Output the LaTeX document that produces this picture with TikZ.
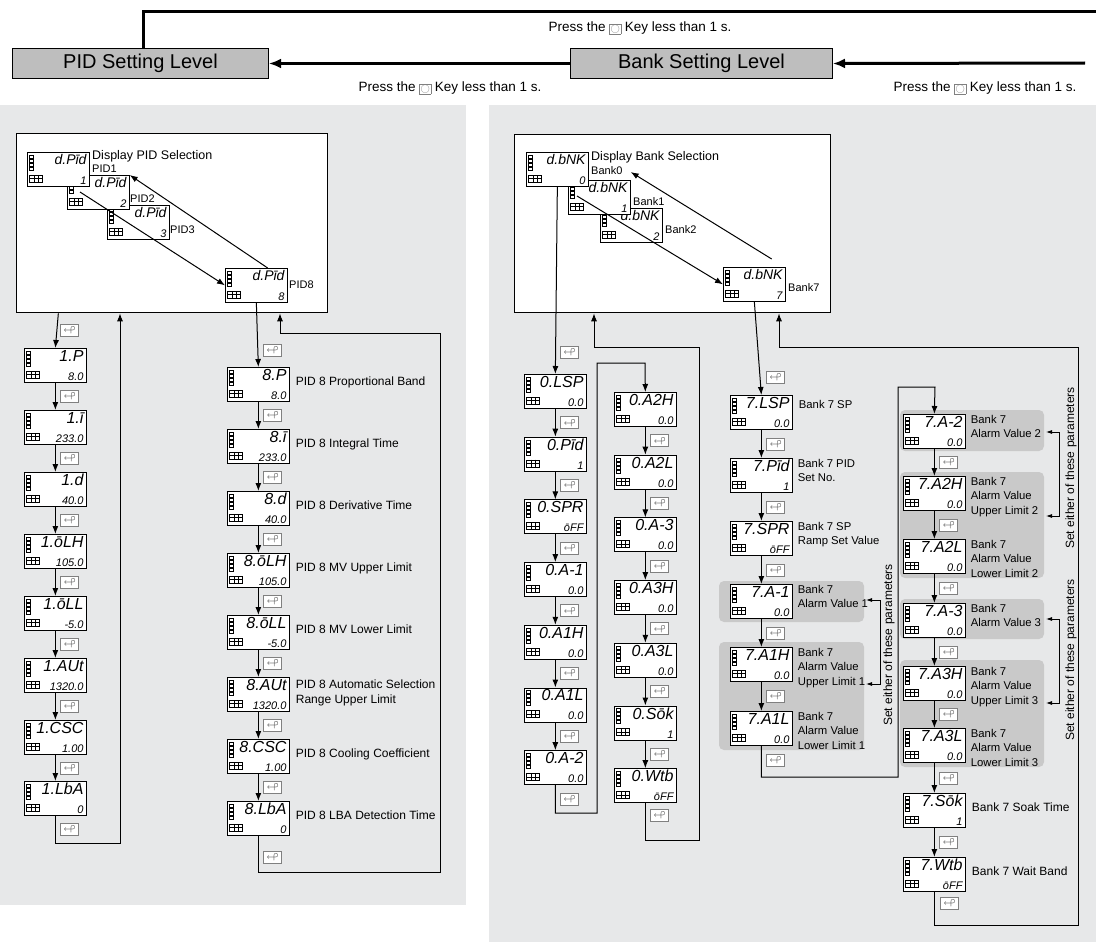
\documentclass[tikz,border=0pt]{standalone}
\usepackage{fontspec}
\usepackage{amssymb}
\setmainfont{Liberation Sans}
\usetikzlibrary{arrows.meta,calc}
\definecolor{panel}{HTML}{E7E8E9}
\definecolor{grp}{HTML}{C9C9C9}
\definecolor{lvl}{HTML}{BEBEBE}
\newcommand\okey{{\setlength\fboxsep{0.8pt}\color{gray}\fbox{\color{gray}\fontsize{9}{9}\selectfont$\bigcirc$}}}
\tikzset{
 dsp/.style={draw,line width=.7pt,fill=white,minimum width=62pt,minimum height=34pt,inner sep=0pt},
 dtop/.style={inner sep=0pt,font=\fontsize{16}{16}\selectfont\itshape},
 dbot/.style={inner sep=0pt,font=\fontsize{11}{11}\selectfont\itshape},
 ky/.style={draw=gray,line width=.7pt,fill=white,minimum width=18pt,minimum height=12pt,inner sep=0pt,font=\fontsize{12}{12}\selectfont,text=darkgray},
 arr/.style={line width=1pt,-{Latex[length=8pt,width=6pt]}},
 lab/.style={inner sep=0pt,align=left,font=\fontsize{12}{14.5}\selectfont,anchor=north west},
 blab/.style={inner sep=0pt,align=left,font=\fontsize{11.3}{14.5}\selectfont,anchor=north west},
 slab/.style={inner sep=0pt,align=left,font=\fontsize{11}{12}\selectfont,anchor=west},
 wbox/.style={draw,line width=1.3pt,fill=white,inner sep=0pt,anchor=north west},
 lvlbox/.style={draw,line width=1pt,fill=lvl,inner sep=0pt,anchor=north west,font=\fontsize{20}{20}\selectfont},
 press/.style={inner sep=0pt,font=\fontsize{13.5}{14}\selectfont},
 big/.style={line width=3pt},
 bigarr/.style={line width=3pt,-{Latex[length=12pt,width=10pt]}},
 grpbox/.style={fill=grp,rounded corners=5pt},
 rot/.style={rotate=90,inner sep=0pt,font=\fontsize{12}{12}\selectfont}
}
\newcommand\dsp[5]{%
 \node[dsp,anchor=north west] (#1) at (#2,#3) {};
 \node[dtop,anchor=north east] at ([xshift=-3pt,yshift=-2pt]#1.north east) {#4};
 \node[dbot,anchor=south east] at ([xshift=-3pt,yshift=2pt]#1.south east) {#5};
 \foreach \k in {0,1,2,3} \draw[line width=.4pt] ([xshift=2.5pt,yshift=-3pt-\k*4pt]#1.north west) rectangle ++(3.5pt,-3pt);
 \draw[line width=.4pt] ([xshift=2.5pt,yshift=-23pt]#1.north west) rectangle ++(13pt,-7pt);
 \draw[line width=.4pt] ([xshift=2.5pt,yshift=-26.5pt]#1.north west) -- ++(13pt,0pt);
 \draw[line width=.4pt] ([xshift=7pt,yshift=-23pt]#1.north west) -- ++(0pt,-7pt);
 \draw[line width=.4pt] ([xshift=11pt,yshift=-23pt]#1.north west) -- ++(0pt,-7pt);
}
\newcommand\chain[2]{%
 \draw[arr] (#1.south) -- (#2.north);
 \node[ky,anchor=west,xshift=5pt] (k#2) at ($(#1.south)!.5!(#2.north)$) {$\looparrowleft$};}
\begin{document}
\begin{tikzpicture}[x=1pt,y=-1pt]
\useasboundingbox (0,0) rectangle (1096,942);
\fill[panel] (0,105) rectangle (466,905);
\fill[panel] (489,105) rectangle (1096,942);
\node[lvlbox,minimum width=256pt,minimum height=30pt] (pid) at (12,48) {PID Setting Level};
\node[lvlbox,minimum width=262pt,minimum height=30pt] (bank) at (570,48) {Bank Setting Level};
\coordinate (tr) at (1096,12);
\coordinate (rin) at (1085,63);
\draw[big] (tr) -- (143,12) -- (143,12 |- pid.north);
\draw[bigarr] (bank.west) -- (pid.east);
\draw[bigarr] (rin) -- (bank.east);
\node[press] (t1) at (640,28) {Press the \okey\ Key less than 1 s.};
\node[press] (t2) at (450,88) {Press the \okey\ Key less than 1 s.};
\node[press] (t3) at (985,88) {Press the \okey\ Key less than 1 s.};
% ===== left
\node[wbox,minimum width=311pt,minimum height=179pt] (lbox) at (16,133) {};
\tikzset{dtop/.style={inner sep=0pt,font=\fontsize{14}{14}\selectfont\itshape}}
\dsp{pa}{107}{205}{d.Pīd}{3}
\dsp{pb}{67}{175}{d.Pīd}{2}
\dsp{p1}{27}{152}{d.Pīd}{1}
\dsp{p8}{225}{268}{d.Pīd}{8}
\node[slab] (lp0) at (92,156) {\fontsize{12.5}{13}\selectfont Display PID Selection};
\node[slab] (lp1) at (92,169) {PID1};
\node[slab] (lp2) at (130,199) {PID2};
\node[slab] (lp3) at (170,230) {PID3};
\node[slab] (lp8) at (289,285) {PID8};
\draw[arr] ([xshift=13pt,yshift=-17pt]pb.north west) -- (p8.west);
\draw[arr] ([xshift=-20pt]p8.north east) -- (pb.north east);
\tikzset{dtop/.style={inner sep=0pt,font=\fontsize{16}{16}\selectfont\itshape}}
\dsp{a1}{24}{348}{1.P}{8.0}
\dsp{a2}{24}{410}{1.ī}{233.0}
\dsp{a3}{24}{472}{1.d}{40.0}
\dsp{a4}{24}{534}{1.ōLH}{105.0}
\dsp{a5}{24}{596}{1.ōLL}{-5.0}
\dsp{a6}{24}{658}{1.AUt}{1320.0}
\dsp{a7}{24}{720}{1.CSC}{1.00}
\dsp{a8}{24}{781}{1.LbA}{0}
\draw[arr] (p1.south |- lbox.south) -- (a1.north);
\node[ky,anchor=west] (ka1) at (60,330) {$\looparrowleft$};
\chain{a1}{a2}\chain{a2}{a3}\chain{a3}{a4}\chain{a4}{a5}\chain{a5}{a6}\chain{a6}{a7}\chain{a7}{a8}
\node[ky,anchor=west] (ka9) at (60,829) {$\looparrowleft$};
\coordinate (ca) at (120,843);
\draw[arr] (a8.south) |- (ca) -- (ca |- lbox.south);
\foreach \n/\t/\b [count=\i from 0] in {b1/8.P/8.0,b2/8.ī/233.0,b3/8.d/40.0,b4/8.ōLH/105.0,b5/8.ōLL/-5.0,b6/8.AUt/1320.0,b7/8.CSC/1.00,b8/8.LbA/0}
 {\dsp{\n}{227}{367+62*\i}{\t}{\b}}
\draw[arr] (p8.south) -- (b1.north);
\node[ky,anchor=west] (kb1) at (263,350) {$\looparrowleft$};
\chain{b1}{b2}\chain{b2}{b3}\chain{b3}{b4}\chain{b4}{b5}\chain{b5}{b6}\chain{b6}{b7}\chain{b7}{b8}
\node[ky,anchor=west] (kb9) at (263,857) {$\looparrowleft$};
\coordinate (cb) at (440,872);
\coordinate (cb2) at (280,333);
\draw[arr] (b8.south) |- (cb) |- (cb2) -- (cb2 |- lbox.south);
\node[lab] at ([xshift=6pt,yshift=-10pt]b1.north east) {PID 8 Proportional Band};
\node[lab] at ([xshift=6pt,yshift=-10pt]b2.north east) {PID 8 Integral Time};
\node[lab] at ([xshift=6pt,yshift=-10pt]b3.north east) {PID 8 Derivative Time};
\node[lab] at ([xshift=6pt,yshift=-10pt]b4.north east) {PID 8 MV Upper Limit};
\node[lab] at ([xshift=6pt,yshift=-10pt]b5.north east) {PID 8 MV Lower Limit};
\node[lab] at ([xshift=6pt,yshift=-3pt]b6.north east) {PID 8 Automatic Selection\\Range Upper Limit};
\node[lab] at ([xshift=6pt,yshift=-10pt]b7.north east) {PID 8 Cooling Coefficient};
\node[lab] at ([xshift=6pt,yshift=-10pt]b8.north east) {PID 8 LBA Detection Time};
% ===== right
\node[wbox,minimum width=316pt,minimum height=178pt] (rbox) at (514,134) {};
\tikzset{dtop/.style={inner sep=0pt,font=\fontsize{14}{14}\selectfont\itshape}}
\dsp{q2}{600}{208}{d.bNK}{2}
\dsp{qb}{568}{180}{d.bNK}{1}
\dsp{q0}{526}{152}{d.bNK}{0}
\dsp{q7}{723}{267}{d.bNK}{7}
\tikzset{dtop/.style={inner sep=0pt,font=\fontsize{16}{16}\selectfont\itshape}}
\node[slab] at (591,157) {\fontsize{12.5}{13}\selectfont Display Bank Selection};
\node[slab] at (591,171) {Bank0};
\node[slab] at (633,202) {Bank1};
\node[slab] at (665,230) {Bank2};
\node[slab] at (788,288) {Bank7};
\draw[arr] ([xshift=9pt,yshift=-16pt]qb.north west) -- (q7.west);
\draw[arr] ([xshift=-14pt,yshift=8pt]q7.north east) -- ([yshift=8pt]qb.north east);
\foreach \n/\t/\b [count=\i from 0] in {c1/0.LSP/0.0,c2/0.Pīd/1,c3/0.SPR/ōFF,c4/0.A-1/0.0,c5/0.A1H/0.0,c6/0.A1L/0.0,c7/0.A-2/0.0}
 {\dsp{\n}{524}{374+62.7*\i}{\t}{\b}}
\draw[arr] (q0.south) -- (c1.north);
\node[ky,anchor=west] (kc0) at (560,352) {$\looparrowleft$};
\chain{c1}{c2}\chain{c2}{c3}\chain{c3}{c4}\chain{c4}{c5}\chain{c5}{c6}\chain{c6}{c7}
\node[ky,anchor=west] (kc8) at (560,799) {$\looparrowleft$};
\foreach \n/\t/\b [count=\i from 0] in {d1/0.A2H/0.0,d2/0.A2L/0.0,d3/0.A-3/0.0,d4/0.A3H/0.0,d5/0.A3L/0.0,d6/0.Sōk/1,d7/0.Wtb/ōFF}
 {\dsp{\n}{614}{392+62.7*\i}{\t}{\b}}
\coordinate (cc1) at (597,813);
\coordinate (cc2) at (645,363);
\draw[arr] (c7.south) |- (cc1) |- (cc2) -- (d1.north);
\chain{d1}{d2}\chain{d2}{d3}\chain{d3}{d4}\chain{d4}{d5}\chain{d5}{d6}\chain{d6}{d7}
\node[ky,anchor=west] (kd8) at (650,815) {$\looparrowleft$};
\coordinate (cd1) at (699,840);
\coordinate (cd2) at (594,347);
\draw[arr] (d7.south) |- (cd1) |- (cd2) -- (cd2 |- rbox.south);
\fill[grpbox] (719,581) rectangle (864,622);
\fill[grpbox] (719,642) rectangle (864,750);
\fill[grpbox] (900,410) rectangle (1044,451);
\fill[grpbox] (900,472) rectangle (1044,578);
\fill[grpbox] (900,599) rectangle (1044,639);
\fill[grpbox] (900,660) rectangle (1044,767);
\dsp{e1}{730}{395}{7.LSP}{0.0}
\dsp{e2}{730}{458}{7.Pīd}{1}
\dsp{e3}{730}{521}{7.SPR}{ōFF}
\dsp{e4}{730}{584}{7.A-1}{0.0}
\dsp{e5}{730}{647}{7.A1H}{0.0}
\dsp{e6}{730}{711}{7.A1L}{0.0}
\draw[arr] (q7.south) -- (e1.north);
\node[ky,anchor=west] (ke0) at (766,377) {$\looparrowleft$};
\chain{e1}{e2}\chain{e2}{e3}\chain{e3}{e4}\chain{e4}{e5}\chain{e5}{e6}
\node[ky,anchor=west] (ke7) at (766,760) {$\looparrowleft$};
\node[blab] at ([xshift=6pt,yshift=-5pt]e1.north east) {Bank 7 SP};
\node[blab] at ([xshift=5pt,yshift=-1pt]e2.north east) {Bank 7 PID\\Set No.};
\node[blab] at ([xshift=5pt,yshift=-1pt]e3.north east) {Bank 7 SP\\Ramp Set Value};
\node[blab] at ([xshift=5pt,yshift=-1pt]e4.north east) {Bank 7\\Alarm Value 1};
\node[blab] at ([xshift=5pt,yshift=-1pt]e5.north east) {Bank 7\\Alarm Value\\Upper Limit 1};
\node[blab] at ([xshift=5pt,yshift=-1pt]e6.north east) {Bank 7\\Alarm Value\\Lower Limit 1};
\dsp{f1}{903}{414}{7.A-2}{0.0}
\dsp{f2}{903}{476}{7.A2H}{0.0}
\dsp{f3}{903}{539}{7.A2L}{0.0}
\dsp{f4}{903}{603}{7.A-3}{0.0}
\dsp{f5}{903}{666}{7.A3H}{0.0}
\dsp{f6}{903}{728}{7.A3L}{0.0}
\dsp{f7}{903}{793}{7.Sōk}{1}
\dsp{f8}{903}{857}{7.Wtb}{ōFF}
\coordinate (ce1) at (898,777);
\coordinate (ce2) at (935,387);
\draw[arr] (e6.south) |- (ce1) |- (ce2) -- (f1.north);
\chain{f1}{f2}\chain{f2}{f3}\chain{f3}{f4}\chain{f4}{f5}\chain{f5}{f6}\chain{f6}{f7}\chain{f7}{f8}
\node[ky,anchor=west] (kf9) at (940,903) {$\looparrowleft$};
\coordinate (cf1) at (1078,925);
\coordinate (cf2) at (779,347);
\draw[arr] (f8.south) |- (cf1) |- (cf2) -- (cf2 |- rbox.south);
\node[blab] at ([xshift=5pt,yshift=-1pt]f1.north east) {Bank 7\\Alarm Value 2};
\node[blab] at ([xshift=5pt,yshift=-1pt]f2.north east) {Bank 7\\Alarm Value\\Upper Limit 2};
\node[blab] at ([xshift=5pt,yshift=-1pt]f3.north east) {Bank 7\\Alarm Value\\Lower Limit 2};
\node[blab] at ([xshift=5pt,yshift=-1pt]f4.north east) {Bank 7\\Alarm Value 3};
\node[blab] at ([xshift=5pt,yshift=-1pt]f5.north east) {Bank 7\\Alarm Value\\Upper Limit 3};
\node[blab] at ([xshift=5pt,yshift=-1pt]f6.north east) {Bank 7\\Alarm Value\\Lower Limit 3};
\node[lab] at ([xshift=6pt,yshift=-10pt]f7.north east) {Bank 7 Soak Time};
\node[lab] at ([xshift=6pt,yshift=-10pt]f8.north east) {Bank 7 Wait Band};
\coordinate (g1a) at (866,600); \coordinate (g1b) at (866,684);
\draw[line width=.8pt,{Latex[length=6pt,width=4pt]}-{Latex[length=6pt,width=4pt]}] (g1a) -- ++(14,0) -- ++(0,84) -- (g1b);
\node[rot] (s1) at (889,645) {Set either of these parameters};
\coordinate (g2a) at (1046,432); \coordinate (g2b) at (1046,516);
\draw[line width=.8pt,{Latex[length=6pt,width=4pt]}-{Latex[length=6pt,width=4pt]}] (g2a) -- ++(13,0) -- ++(0,84) -- (g2b);
\node[rot] (s2) at (1071,468) {Set either of these parameters};
\coordinate (g3a) at (1046,619); \coordinate (g3b) at (1046,703);
\draw[line width=.8pt,{Latex[length=6pt,width=4pt]}-{Latex[length=6pt,width=4pt]}] (g3a) -- ++(13,0) -- ++(0,84) -- (g3b);
\node[rot] (s3) at (1071,660) {Set either of these parameters};
\end{tikzpicture}
\end{document}
